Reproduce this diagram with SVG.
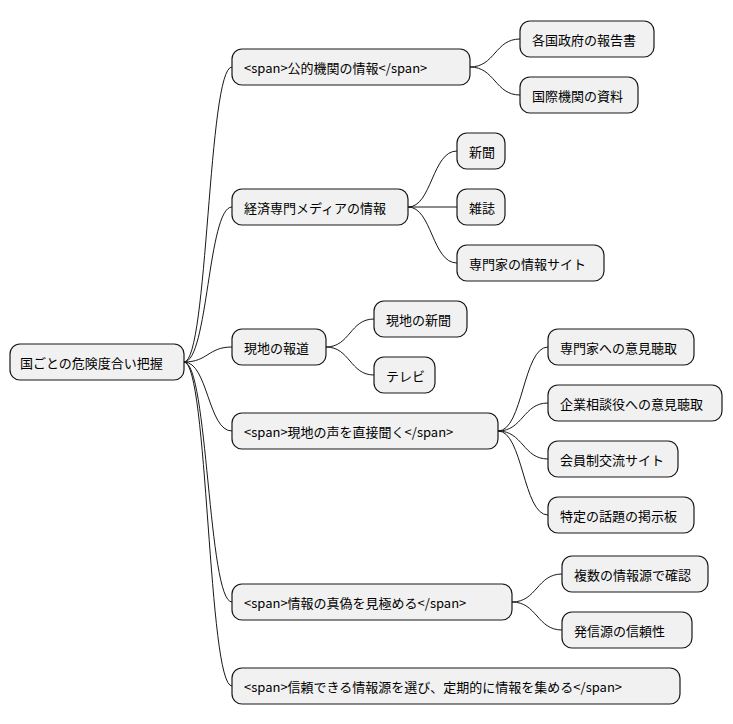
<svg xmlns="http://www.w3.org/2000/svg" width="733" height="724" viewBox="0 0 733 724">
<style>
rect{fill:#f1f1f1;stroke:#181818;stroke-width:1.2}
text{font-family:"Noto Sans CJK JP","DejaVu Sans",sans-serif;font-size:13px;fill:#000;dominant-baseline:central}
.c path{fill:none;stroke:#181818;stroke-width:1}
</style>
<rect x="0" y="0" width="733" height="724" style="fill:#fff;stroke:none"/>
<g class="c" id="connectors">
<path d="M184,362 C208,362 208,67 232,67"/>
<path d="M184,362 C208,362 208,207 232,207"/>
<path d="M184,362 C208,362 208,347 232,347"/>
<path d="M184,362 C208,362 208,431 232,431"/>
<path d="M184,362 C208,362 208,602 232,602"/>
<path d="M184,362 C208,362 208,686 232,686"/>
<path d="M470,67 C495,67 495,39 520,39"/>
<path d="M470,67 C495,67 495,95 520,95"/>
<path d="M408,207 C432,207 432,151 457,151"/>
<path d="M408,207 L457,207"/>
<path d="M408,207 C432,207 432,263 457,263"/>
<path d="M326,347 C350,347 350,319 374,319"/>
<path d="M326,347 C350,347 350,375 374,375"/>
<path d="M498,431 C523,431 523,347 548,347"/>
<path d="M498,431 C523,431 523,403 548,403"/>
<path d="M498,431 C523,431 523,459 548,459"/>
<path d="M498,431 C523,431 523,515 548,515"/>
<path d="M512,602 C537,602 537,574 562,574"/>
<path d="M512,602 C537,602 537,630 562,630"/>
</g>
<g id="root"><rect x="10" y="344" width="174" height="36" rx="10"/><text x="20" y="362">国ごとの危険度合い把握</text></g>
<g id="n1"><rect x="232" y="49" width="238" height="36" rx="10"/><text x="244" y="67">&lt;span&gt;公的機関の情報&lt;/span&gt;</text></g>
<g id="n2"><rect x="232" y="189" width="176" height="36" rx="10"/><text x="244" y="207">経済専門メディアの情報</text></g>
<g id="n3"><rect x="232" y="329" width="94" height="36" rx="10"/><text x="244" y="347">現地の報道</text></g>
<g id="n4"><rect x="232" y="413" width="266" height="36" rx="10"/><text x="244" y="431">&lt;span&gt;現地の声を直接聞く&lt;/span&gt;</text></g>
<g id="n5"><rect x="232" y="584" width="280" height="36" rx="10"/><text x="244" y="602">&lt;span&gt;情報の真偽を見極める&lt;/span&gt;</text></g>
<g id="n6"><rect x="232" y="668" width="448" height="36" rx="10"/><text x="244" y="686">&lt;span&gt;信頼できる情報源を選び、定期的に情報を集める&lt;/span&gt;</text></g>
<g id="n1a"><rect x="520" y="21" width="134" height="36" rx="10"/><text x="532" y="39">各国政府の報告書</text></g>
<g id="n1b"><rect x="520" y="77" width="118" height="36" rx="10"/><text x="532" y="95">国際機関の資料</text></g>
<g id="n2a"><rect x="457" y="133" width="48" height="36" rx="10"/><text x="469" y="151">新聞</text></g>
<g id="n2b"><rect x="457" y="189" width="48" height="36" rx="10"/><text x="469" y="207">雑誌</text></g>
<g id="n2c"><rect x="457" y="245" width="147" height="36" rx="10"/><text x="469" y="263">専門家の情報サイト</text></g>
<g id="n3a"><rect x="374" y="301" width="93" height="36" rx="10"/><text x="386" y="319">現地の新聞</text></g>
<g id="n3b"><rect x="374" y="357" width="61" height="36" rx="10"/><text x="386" y="375">テレビ</text></g>
<g id="n4a"><rect x="548" y="329" width="146" height="36" rx="10"/><text x="560" y="347">専門家への意見聴取</text></g>
<g id="n4b"><rect x="548" y="385" width="174" height="36" rx="10"/><text x="560" y="403">企業相談役への意見聴取</text></g>
<g id="n4c"><rect x="548" y="441" width="130" height="36" rx="10"/><text x="560" y="459">会員制交流サイト</text></g>
<g id="n4d"><rect x="548" y="497" width="146" height="36" rx="10"/><text x="560" y="515">特定の話題の掲示板</text></g>
<g id="n5a"><rect x="562" y="556" width="146" height="36" rx="10"/><text x="574" y="574">複数の情報源で確認</text></g>
<g id="n5b"><rect x="562" y="612" width="130" height="36" rx="10"/><text x="574" y="630">発信源の信頼性</text></g>
</svg>
